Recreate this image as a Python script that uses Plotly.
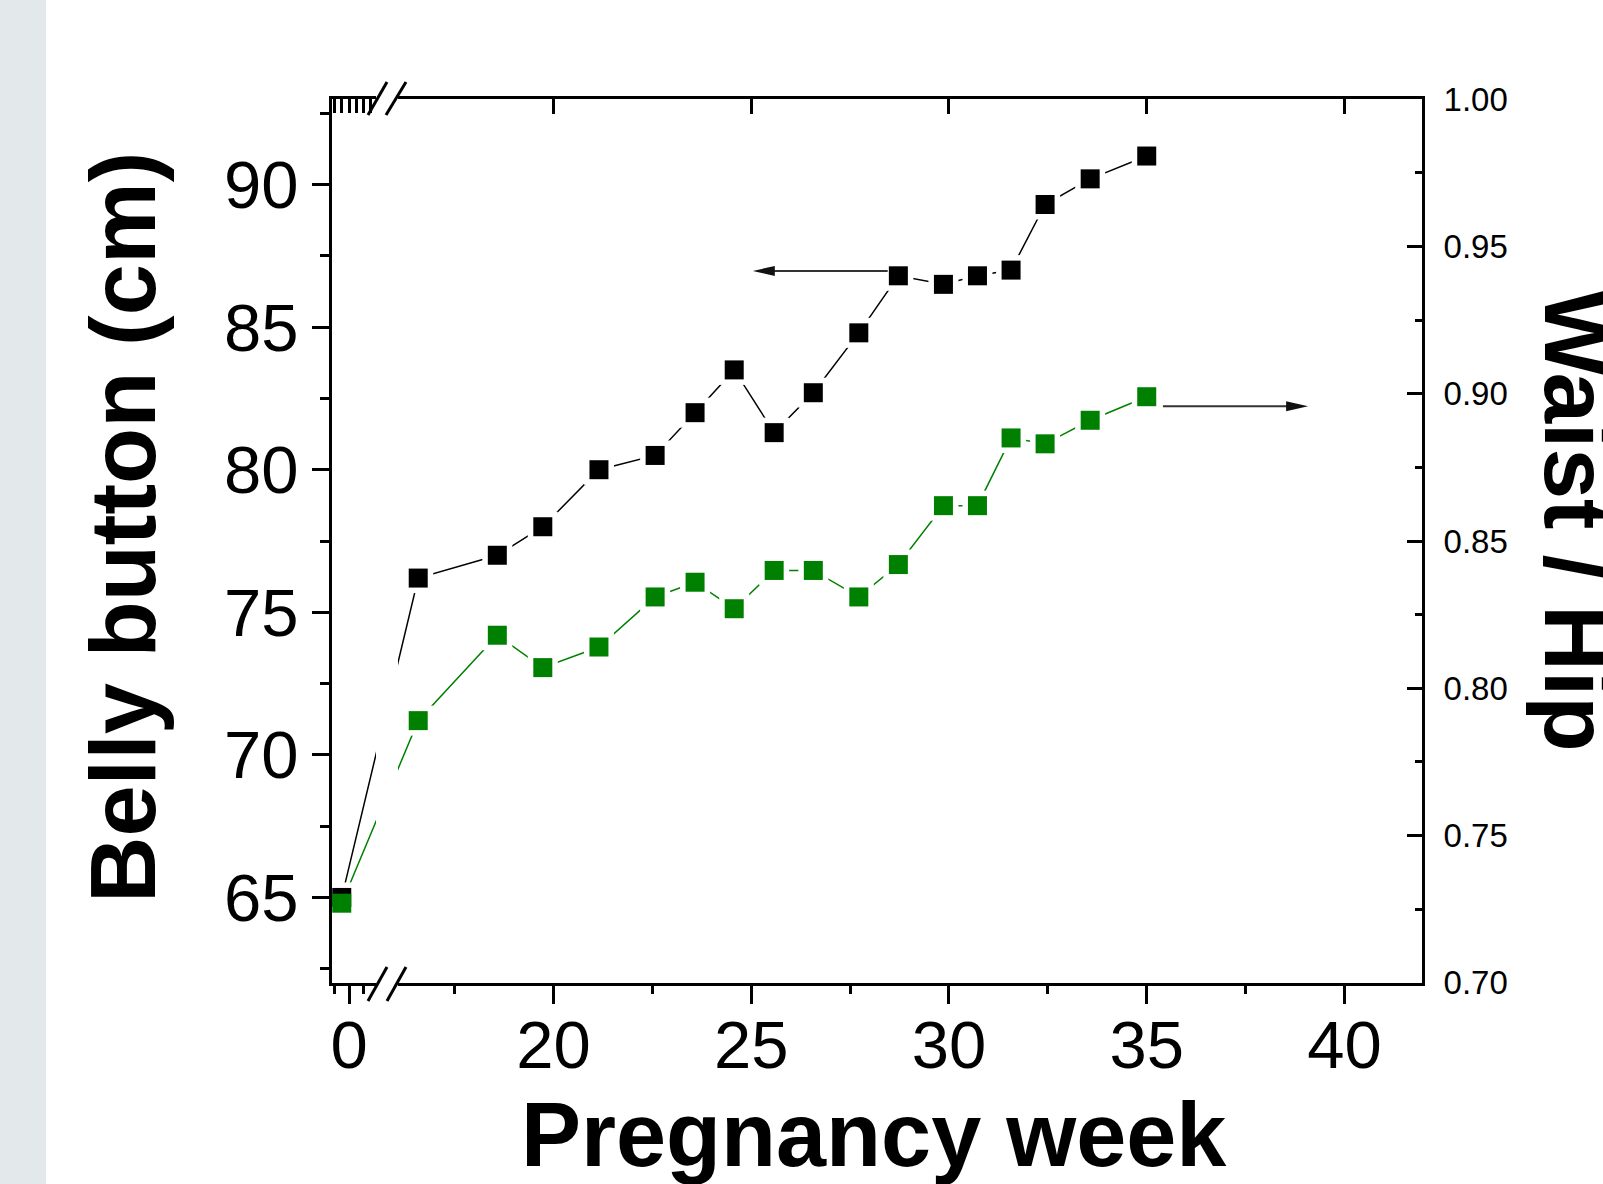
import plotly.graph_objects as go

# ---------------- data ----------------
weeks = [-0.5, 16.58, 18.58, 19.73, 21.15, 22.57, 23.58, 24.57, 25.58,
         26.57, 27.72, 28.72, 29.86, 30.72, 31.57, 32.43, 33.57, 35.0]
belly_cm = [65.0, 76.2, 77.0, 78.0, 80.0, 80.5, 82.0, 83.5, 81.3,
            82.7, 84.8, 86.8, 86.5, 86.8, 87.0, 89.3, 90.2, 91.0]
waist_hip = [0.727, 0.789, 0.818, 0.807, 0.814, 0.831, 0.836, 0.827, 0.840,
             0.840, 0.831, 0.842, 0.862, 0.862, 0.885, 0.883, 0.891, 0.899]

x_tick_weeks = [0, 20, 25, 30, 35, 40]
x_tick_labels = ["0", "20", "25", "30", "35", "40"]
x_minor_weeks = [-1, 1, 17.5, 22.5, 27.5, 32.5, 37.5]
top_major_weeks = [20, 25, 30, 35, 40]
top_minor_weeks = [-1, -0.5, 0, 0.5, 1, 1.5]
left_ticks = [65, 70, 75, 80, 85, 90]
right_ticks = [0.70, 0.75, 0.80, 0.85, 0.90, 0.95, 1.00]

# ---------------- broken x axis ----------------
BREAK_AT = 10          # weeks below this sit in the short segment before the break
SEG0_ORIGIN = 14.83    # axis position of week 0
SEG0_SCALE = 0.367     # compression of the short segment
X_RANGE = [14.40, 41.96]


def to_axis(w):
    return SEG0_ORIGIN + SEG0_SCALE * w if w < BREAK_AT else w


xs = [to_axis(w) for w in weeks]

# ---------------- geometry helpers (layout decorations) ----------------
W, H = 1603, 1184
L, R, T, B = 332, 1422, 99, 983
PW, PH = R - L, B - T


def px(p):
    return (p - L) / PW


def py(p):
    return (B - p) / PH


FONT = "Liberation Sans, Arial, Helvetica, sans-serif"
BLACK = "#000000"
GREEN = "#008000"

fig = go.Figure()
# lines
fig.add_trace(go.Scatter(x=xs, y=belly_cm, mode="lines", xaxis="x", yaxis="y",
                         line=dict(color=BLACK, width=1.5), hoverinfo="skip"))
fig.add_trace(go.Scatter(x=xs, y=waist_hip, mode="lines", xaxis="x", yaxis="y2",
                         line=dict(color=GREEN, width=1.5), hoverinfo="skip"))
# white halos (gap between line and symbol)
fig.add_trace(go.Scatter(x=xs, y=waist_hip, mode="markers", xaxis="x", yaxis="y2",
                         marker=dict(symbol="square", size=30, color="white"),
                         hoverinfo="skip"))
fig.add_trace(go.Scatter(x=xs, y=belly_cm, mode="markers", xaxis="x", yaxis="y3",
                         marker=dict(symbol="square", size=30, color="white"),
                         hoverinfo="skip"))
# symbols
fig.add_trace(go.Scatter(x=xs, y=belly_cm, mode="markers", xaxis="x", yaxis="y3",
                         marker=dict(symbol="square", size=19, color=BLACK)))
fig.add_trace(go.Scatter(x=xs, y=waist_hip, mode="markers", xaxis="x", yaxis="y4",
                         marker=dict(symbol="square", size=19, color=GREEN)))
# empty trace so that the mirrored top axis is drawn
fig.add_trace(go.Scatter(x=[None], y=[None], mode="markers", xaxis="x2", yaxis="y",
                         hoverinfo="skip"))

Y_RANGE = [62, 93]
Y2_RANGE = [0.6999, 1.0001]

shapes = [
    # grey strip at the left edge of the page
    dict(type="rect", xref="paper", yref="paper", x0=px(0), x1=px(46), y0=py(1200), y1=py(-20),
         fillcolor="#e3e8eb", line=dict(width=0), layer="below"),
    # white band that breaks the axis and lines
    dict(type="rect", xref="paper", yref="paper", x0=px(376), x1=px(398), y0=py(996), y1=py(86),
         fillcolor="white", line=dict(width=0), layer="above"),
]
for (x0, y0, x1, y1) in [(368, 1001, 387, 967), (387, 1001, 406, 967),
                         (368, 115, 387, 82), (386, 115, 406, 82)]:
    shapes.append(dict(type="line", xref="paper", yref="paper", x0=px(x0), y0=py(y0),
                       x1=px(x1), y1=py(y1), line=dict(color=BLACK, width=3), layer="above"))

# arrows pointing to the axes
shapes += [
    dict(type="line", xref="x", yref="y", x0=25.3, x1=28.45, y0=86.97, y1=86.97,
         line=dict(color="#333333", width=2), layer="above"),
    dict(type="path", xref="x", yref="y", xsizemode="pixel", ysizemode="pixel",
         xanchor=25.04, yanchor=86.97, path="M0,0 L22,5 L22,-5 Z",
         fillcolor="#111111", line=dict(width=0), layer="above"),
    dict(type="line", xref="x", yref="y2", x0=35.41, x1=38.8, y0=0.8958, y1=0.8958,
         line=dict(color="#333333", width=2), layer="above"),
    dict(type="path", xref="x", yref="y2", xsizemode="pixel", ysizemode="pixel",
         xanchor=39.08, yanchor=0.8958, path="M0,0 L-22,5 L-22,-5 Z",
         fillcolor="#111111", line=dict(width=0), layer="above"),
]

annotations = [
    dict(text="<b>Pregnancy week</b>", xref="paper", yref="paper", x=px(874), y=py(1135),
         xanchor="center", yanchor="middle", showarrow=False,
         font=dict(family=FONT, size=90, color=BLACK)),
    dict(text="<b>Belly button (cm)</b>", xref="paper", yref="paper", x=px(123), y=py(528),
         xanchor="center", yanchor="middle", showarrow=False, textangle=-90,
         font=dict(family=FONT, size=92, color=BLACK)),
    dict(text="<b>Waist / Hip</b>", xref="paper", yref="paper", x=px(1577), y=py(521),
         xanchor="center", yanchor="middle", showarrow=False, textangle=90,
         font=dict(family=FONT, size=91, color=BLACK)),
]

fig.update_layout(
    width=W, height=H,
    margin=dict(l=L, r=W - R, t=T, b=H - B, pad=0),
    paper_bgcolor="white", plot_bgcolor="white",
    showlegend=False,
    font=dict(family=FONT, color=BLACK),
    xaxis=dict(range=X_RANGE, tickmode="array",
               tickvals=[to_axis(w) for w in x_tick_weeks], ticktext=x_tick_labels,
               ticks="outside", ticklen=18, tickwidth=3, tickcolor=BLACK,
               ticklabelstandoff=-16,
               showline=True, linewidth=3, linecolor=BLACK, mirror=True,
               showgrid=False, zeroline=False,
               tickfont=dict(family=FONT, size=67, color=BLACK),
               minor=dict(tickmode="array", tickvals=[to_axis(w) for w in x_minor_weeks],
                          ticks="outside", ticklen=8, tickwidth=3, tickcolor=BLACK,
                          showgrid=False)),
    xaxis2=dict(range=X_RANGE, overlaying="x", side="top", anchor="y",
                tickmode="array", tickvals=top_major_weeks,
                ticks="inside", ticklen=15, tickwidth=3, tickcolor=BLACK,
                showticklabels=False, showline=True, linewidth=3, linecolor=BLACK,
                showgrid=False, zeroline=False,
                minor=dict(tickmode="array", tickvals=[to_axis(w) for w in top_minor_weeks],
                           ticks="inside", ticklen=14, tickwidth=3, tickcolor=BLACK,
                           showgrid=False)),
    yaxis=dict(range=Y_RANGE, tickmode="array", tickvals=left_ticks,
               ticks="outside", ticklen=17, tickwidth=3, tickcolor=BLACK,
               showline=True, linewidth=3, linecolor=BLACK,
               showgrid=False, zeroline=False,
               tickfont=dict(family=FONT, size=67, color=BLACK),
               minor=dict(dtick=2.5, tick0=0, ticks="outside", ticklen=9, tickwidth=3,
                          tickcolor=BLACK, showgrid=False)),
    yaxis2=dict(range=Y2_RANGE, overlaying="y", side="right", anchor="x",
                tickmode="array", tickvals=right_ticks, tickformat=".2f",
                ticks="inside", ticklen=15, tickwidth=3, tickcolor=BLACK,
                ticklabelstandoff=12,
                showline=True, linewidth=3, linecolor=BLACK,
                showgrid=False, zeroline=False,
                tickfont=dict(family=FONT, size=33, color=BLACK),
                minor=dict(dtick=0.025, tick0=0, ticks="inside", ticklen=7, tickwidth=3,
                           tickcolor=BLACK, showgrid=False)),
    yaxis3=dict(range=Y_RANGE, overlaying="y", visible=False),
    yaxis4=dict(range=Y2_RANGE, overlaying="y", visible=False),
    shapes=shapes,
    annotations=annotations,
)

fig.write_html("out.html")
